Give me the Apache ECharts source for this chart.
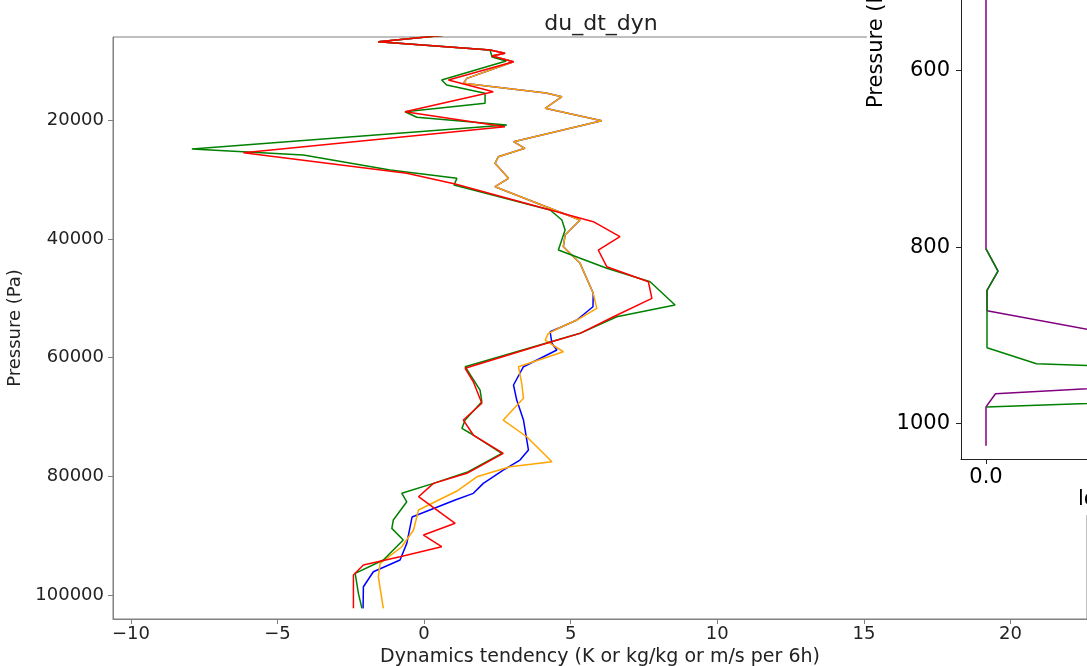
<!DOCTYPE html>
<html>
<head>
<meta charset="utf-8">
<script src="https://cdn.jsdelivr.net/npm/echarts@6/dist/echarts.min.js"></script>
<style>
  html, body { margin: 0; padding: 0; background: #fff; }
  #chart { width: 1087px; height: 666px; }
</style>
</head>
<body>
<div id="chart"></div>
<script>
// ---- Main panel: du_dt_dyn profiles (tendency vs pressure in Pa) ----
const xTicks = [-10, -5, 0, 5, 10, 15, 20];
const yTicks = [20000, 40000, 60000, 80000, 100000];

const greenP = [4820, 6790, 8190, 9370, 10040, 13240, 14080, 15480, 17170, 18580, 19520, 20820, 24860, 25870,
  28400, 29800, 30920, 35130, 36820, 38500, 41870, 44950, 47210, 51130, 53100, 55900, 61520, 65450, 67420,
  70500, 71900, 73020, 76110, 79200, 81160, 82840, 84260, 87340, 88740, 90710, 94070, 96310, 99680, 102210];
const greenX = [2.5, -1.56, 2.25, 2.32, 2.80, 0.60, 0.77, 2.08, 2.08, -0.65, -0.25, 2.82, -7.92, -4.12,
  -1.16, 1.12, 1.02, 4.30, 4.70, 4.81, 4.58, 6.23, 7.71, 8.56, 6.57, 5.32, 1.40, 1.91, 1.97,
  1.40, 1.29, 1.68, 2.65, 1.51, 0.32, -0.76, -0.59, -1.05, -1.10, -0.71, -1.39, -2.35, -2.24, -2.12];

const redP = [4820, 6790, 8190, 8750, 9200, 10160, 13240, 15210, 18580, 21110, 25480, 28950, 30760, 37100,
  39630, 41870, 44680, 47210, 50000, 53100, 55900, 57580, 61790, 64050, 67680, 70500, 73020, 76110, 79470,
  81160, 83410, 87890, 89860, 91830, 93520, 94920, 96600, 102210];
const redX = [2.5, -1.56, 2.25, 2.76, 2.31, 3.05, 0.83, 2.36, -0.65, 2.76, -6.16, -0.59, 1.06, 5.77,
  6.68, 5.94, 6.23, 7.65, 7.77, 6.46, 5.32, 4.18, 1.40, 1.68, 1.97, 1.34, 1.68, 2.70, 1.46,
  0.32, -0.19, 1.06, -0.02, 0.60, -0.82, -2.07, -2.41, -2.41];

const orangeP = [4820, 6790, 8190, 8750, 9200, 10160, 12960, 13800, 15430, 16050, 18010, 20100, 23630, 24740,
  26160, 27270, 29800, 31210, 36820, 39340, 41310, 44110, 49160, 51690, 53660, 54790, 55900, 57030, 59000,
  61520, 64320, 66840, 70500, 73310, 77520, 78360, 80050, 82450, 85650, 89020, 91830, 94630, 96890, 102210];
const orangeX = [2.5, -1.56, 2.25, 2.76, 2.31, 3.05, 1.46, 1.34, 4.16, 4.70, 4.13, 6.06, 3.05, 3.44,
  2.53, 2.42, 2.88, 2.42, 5.32, 4.81, 4.75, 5.32, 5.77, 5.89, 5.21, 4.70, 4.24, 4.13, 4.75,
  3.22, 3.33, 3.39, 2.70, 3.50, 4.36, 2.93, 1.80, 1.12, -0.19, -0.36, -0.76, -1.50, -1.56, -1.39];

const blueP = [4820, 6790, 8190, 8750, 9200, 10160, 12960, 13800, 15430, 16050, 18010, 20100, 23630, 24740,
  26160, 27270, 29800, 31210, 36820, 39340, 41310, 44110, 49160, 51420, 53660, 54790, 55630, 57580, 58710,
  61520, 64600, 67130, 70500, 75550, 77230, 78920, 81160, 82840, 83970, 86830, 91270, 94070, 96040, 98570, 102210];
const blueX = [2.5, -1.56, 2.25, 2.76, 2.31, 3.05, 1.46, 1.34, 4.16, 4.70, 4.13, 6.06, 3.05, 3.44,
  2.53, 2.42, 2.88, 2.42, 5.32, 4.81, 4.75, 5.32, 5.77, 5.76, 5.21, 4.70, 4.30, 4.36, 4.53,
  3.39, 3.05, 3.16, 3.39, 3.56, 3.27, 2.70, 2.02, 1.68, 1.06, -0.41, -0.59, -0.82, -1.73, -2.07, -2.08];

// ---- Side panel: profiles in hPa ----
const sideYTicks = [600, 800, 1000];
const sideXTicks = [0.0];

const purpleP = [100, 802, 827, 849, 872, 945, 966, 981, 1025];
const purpleX = [0.0, 0.0, 0.024, 0.002, 0.002, 0.70, 0.019, 0.0, 0.0];

const sideGreenP = [802, 827, 849, 872, 914, 932, 956, 981];
const sideGreenX = [0.0, 0.024, 0.002, 0.002, 0.002, 0.101, 1.25, 0.001];

const zip = (xs, ps) => xs.map((x, i) => [x, ps[i]]);
const minus = v => (v < 0 ? '\u2212' + Math.abs(v) : String(v));
const FONT = 'DejaVu Sans';
const SPINE = '#808080';

const chart = echarts.init(document.getElementById('chart'), null, { renderer: 'canvas' });

function mainLine(name, color, xs, ps) {
  return {
    name, type: 'line', xAxisIndex: 0, yAxisIndex: 0,
    data: zip(xs, ps), showSymbol: false, symbol: 'none', clip: true,
    lineStyle: { color, width: 1.5 }, itemStyle: { color }, z: 2
  };
}
function sideLine(name, color, xs, ps) {
  return {
    name, type: 'line', xAxisIndex: 1, yAxisIndex: 1,
    data: zip(xs, ps), showSymbol: false, symbol: 'none', clip: true,
    lineStyle: { color, width: 1.5 }, itemStyle: { color }, z: 6
  };
}

chart.setOption({
  animation: false,
  backgroundColor: '#fff',
  textStyle: { fontFamily: FONT },
  title: {
    text: 'du_dt_dyn', left: 596, top: 8, textAlign: 'center',
    textStyle: { fontFamily: FONT, fontSize: 22, fontWeight: 'normal', color: '#222' }
  },
  grid: [
    { left: 113, top: 37, width: 974, height: 582, outerBoundsMode: 'none', containLabel: false,
      show: true, borderColor: SPINE, borderWidth: 1, backgroundColor: 'transparent' },
    { left: 961, top: 0, width: 126, height: 459, outerBoundsMode: 'none', containLabel: false, show: false }
  ],
  xAxis: [
    {
      gridIndex: 0, type: 'value', min: -10.61, max: 22.61,
      axisLine: { show: true, onZero: false, lineStyle: { color: SPINE, width: 1 } },
      axisTick: { show: true, customValues: xTicks, length: 5, lineStyle: { color: SPINE } },
      axisLabel: { customValues: xTicks, formatter: minus, fontSize: 18, color: '#222', margin: 6, fontFamily: FONT },
      splitLine: { show: false },
      name: 'Dynamics tendency (K or kg/kg or m/s per 6h)', nameLocation: 'middle', nameGap: 26,
      nameTextStyle: { fontSize: 19, color: '#222', fontFamily: FONT }
    },
    {
      gridIndex: 1, type: 'value', min: -0.05, max: 0.202, z: 5,
      axisLine: { show: true, onZero: false, lineStyle: { color: '#222', width: 1 } },
      axisTick: { show: true, customValues: sideXTicks, length: 5, lineStyle: { color: '#222' } },
      axisLabel: { customValues: sideXTicks, formatter: v => v.toFixed(1), fontSize: 21, color: '#000', margin: 8, fontFamily: FONT },
      splitLine: { show: false }
    }
  ],
  yAxis: [
    {
      gridIndex: 0, type: 'value', inverse: true, min: 6000, max: 104000,
      axisLine: { show: true, onZero: false, lineStyle: { color: SPINE, width: 1 } },
      axisTick: { show: true, customValues: yTicks, length: 5, lineStyle: { color: SPINE } },
      axisLabel: { customValues: yTicks, formatter: v => String(v), fontSize: 18, color: '#222', margin: 9, fontFamily: FONT },
      splitLine: { show: false },
      name: 'Pressure (Pa)', nameLocation: 'middle', nameGap: 80,
      nameTextStyle: { fontSize: 18, color: '#222', fontFamily: FONT }
    },
    {
      gridIndex: 1, type: 'value', inverse: true, min: 519.9, max: 1040, z: 5,
      axisLine: { show: true, onZero: false, lineStyle: { color: '#222', width: 1 } },
      axisTick: { show: true, customValues: sideYTicks, length: 5, lineStyle: { color: '#222' } },
      axisLabel: { customValues: sideYTicks, formatter: v => String(v), fontSize: 21, color: '#000', margin: 11, fontFamily: FONT },
      splitLine: { show: false }
    }
  ],
  graphic: [
    // white backing of the side panel, laid over the main frame
    { type: 'rect', z: 1, shape: { x: 867, y: 0, width: 230, height: 515 }, style: { fill: '#fff' } },
    {
      type: 'text', z: 7, x: 877, y: 108, rotation: Math.PI / 2,
      style: { text: 'Pressure (hPa)', font: '21px "DejaVu Sans"', fill: '#000', align: 'left', verticalAlign: 'middle' }
    },
    {
      type: 'text', z: 7, x: 1078, y: 500,
      style: { text: 'log mixing ratio', font: '21px "DejaVu Sans"', fill: '#000', align: 'left', verticalAlign: 'middle' }
    }
  ],
  series: [
    mainLine('blue', '#0000ff', blueX, blueP),
    mainLine('orange', '#ffa500', orangeX, orangeP),
    mainLine('green', '#008000', greenX, greenP),
    mainLine('red', '#ff0000', redX, redP),
    sideLine('purple', '#800080', purpleX, purpleP),
    sideLine('green side', '#008000', sideGreenX, sideGreenP)
  ]
});
</script>
</body>
</html>
